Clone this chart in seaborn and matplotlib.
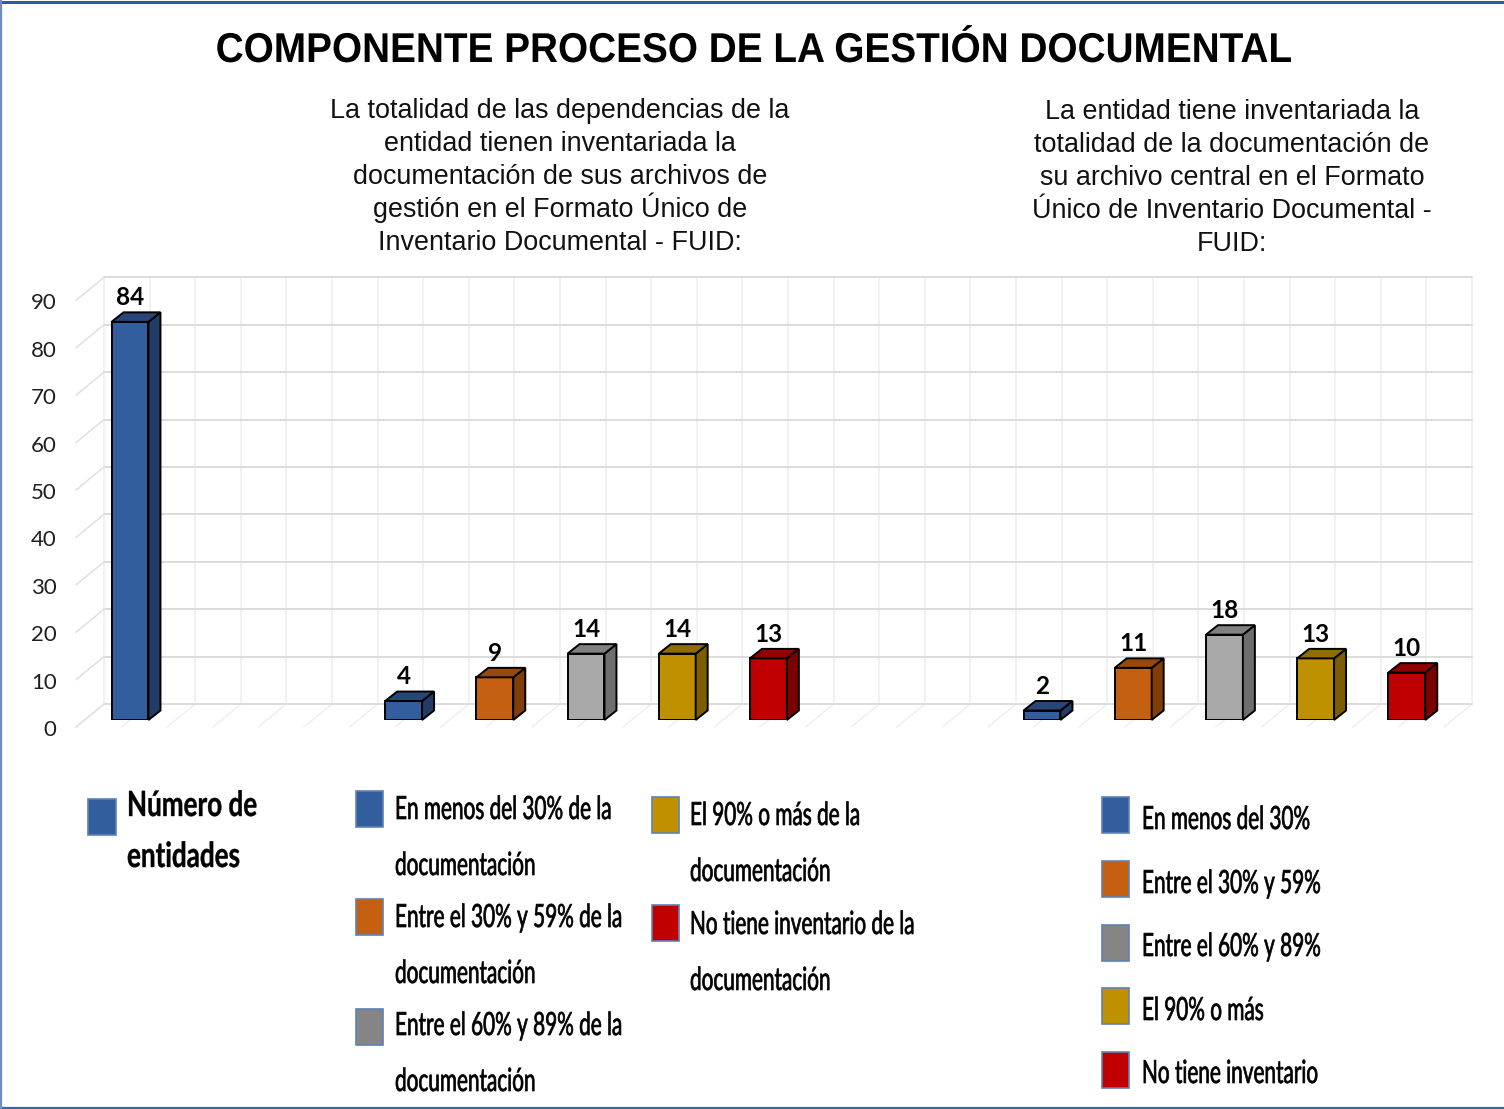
import numpy as np
import pandas as pd
import matplotlib
matplotlib.use('Agg')
import matplotlib.pyplot as plt
from matplotlib.colors import to_rgb
from matplotlib.lines import Line2D
from matplotlib.patches import Polygon, Rectangle
from matplotlib.patheffects import AbstractPathEffect
from matplotlib.transforms import Affine2D, ScaledTranslation
import seaborn as sns

TITLE = 'COMPONENTE PROCESO DE LA GESTIÓN DOCUMENTAL'
SUB_GESTION = ['La totalidad de las dependencias de la',
               'entidad tienen inventariada la',
               'documentación de sus archivos de',
               'gestión en el Formato Único de',
               'Inventario Documental - FUID:']
SUB_CENTRAL = ['La entidad tiene inventariada la',
               'totalidad de la documentación de',
               'su archivo central en el Formato',
               'Único de Inventario Documental -',
               'FUID:']

TONOS = ['azul', 'naranja', 'gris', 'oro', 'rojo']
entidades = [84]
gestion = [4, 9, 14, 14, 13]
central = [2, 11, 18, 13, 10]
y_ticks = [0, 10, 20, 30, 40, 50, 60, 70, 80, 90]

COLORES = {'azul': '#335e9e', 'naranja': '#c55f11', 'gris': '#a9a9a9',
           'oro': '#bf9000', 'rojo': '#c00000'}
GRIS_LEYENDA = '#858585'

W, H = 1504, 1109
PX_X = 91.2      # px per category
PX_Y = 4.74      # px per unit


class Squeeze(AbstractPathEffect):
    # the reference text is horizontally compressed, matplotlib has no font stretch
    def __init__(self, x0, sx, stroke=0.0):
        super().__init__()
        self.x0, self.sx, self.stroke = x0, sx, stroke

    def draw_path(self, renderer, gc, tpath, affine, rgbFace=None):
        squeeze = Affine2D().translate(-self.x0, 0).scale(self.sx, 1).translate(self.x0, 0)
        gc0 = renderer.new_gc()
        gc0.copy_properties(gc)
        gc0.set_linewidth(self.stroke)
        gc0.set_foreground(rgbFace)
        renderer.draw_path(gc0, tpath, affine + squeeze, rgbFace)
        gc0.restore()


def px_text(x, y, s, **kw):
    kw.setdefault('va', 'center')
    return fig.text(x / W, 1 - y / H, s, **kw)


def narrow_text(x, y, s, sx=0.65, stroke=0.5, **kw):
    t = px_text(x, y, s, family='Lato', color='black', **kw)
    t.set_path_effects([Squeeze(x, sx, stroke)])
    return t


def swatch(x, y, tono, w=27, h=36):
    color = GRIS_LEYENDA if tono == 'gris' else COLORES[tono]
    fig.add_artist(Rectangle((x / W, 1 - (y + h) / H), w / W, h / H,
                             transform=fig.transFigure, facecolor=color,
                             edgecolor='#5f82b8', lw=1.2))


# ── Table ─────────────────────────────────────────────────────────────────────
cats = ['total', 'hueco1', 'hueco2']
cats += [f'g{i}' for i in range(5)] + ['hueco3', 'hueco4']
cats += [f'c{i}' for i in range(5)]
df = pd.DataFrame({
    'cat':   ['total'] + [f'g{i}' for i in range(5)] + [f'c{i}' for i in range(5)],
    'valor': entidades + gestion + central,
    'tono':  ['azul'] + TONOS + TONOS,
})

sns.set_theme(style='white')
plt.rcParams['font.family'] = ['Lato', 'DejaVu Sans']

fig = plt.figure(figsize=(W / 100, H / 100), dpi=100, facecolor='white')
ax = fig.add_axes([84.4 / W, 1 - 720 / H, 15 * PX_X / W, 90 * PX_Y / H])

sns.barplot(data=df, x='cat', y='valor', order=cats, hue='tono', hue_order=TONOS,
            palette=COLORES, dodge=False, width=0.405, saturation=1,
            edgecolor='black', linewidth=1.4, legend=False, zorder=3, ax=ax)
ax.set_xlim(-0.5, 14.5)
ax.set_ylim(0, 90)
ax.set_xlabel('')
ax.set_ylabel('')
ax.set_xticks([])
sns.despine(ax=ax, left=True, bottom=True)
ax.patch.set_alpha(0)

# ── Back wall and floor ───────────────────────────────────────────────────────
wall_dx, wall_dy = 19.6 / PX_X, 16 / PX_Y
front_dx, front_dy = -8.4 / PX_X, -7 / PX_Y
x0, x1 = -0.5 + wall_dx, 14.5 + wall_dx
for v in y_ticks:
    ax.plot([x0, x1], [v + wall_dy] * 2, color='#dcdcdc', lw=1.4, zorder=1, clip_on=False)
    ax.plot([-0.5 + front_dx, x0], [v + front_dy, v + wall_dy], color='#e2e2e2', lw=1.2,
            zorder=1, clip_on=False)
for k in np.arange(0, 15.01, 0.5):
    ax.plot([x0 + k] * 2, [wall_dy, 90 + wall_dy], color='#f0f0f0', lw=1.3, zorder=0.5,
            clip_on=False)
    ax.plot([x0 + k, -0.5 + front_dx + k], [wall_dy, front_dy], color='#f0f0f0', lw=1.2,
            zorder=0.5, clip_on=False)

# ── 3D faces and value labels ─────────────────────────────────────────────────
dx, dy = 12 / PX_X, 9.5 / PX_Y
for bar in ax.patches:
    h = bar.get_height()
    if not h > 0:
        continue
    xl, xr = bar.get_x(), bar.get_x() + bar.get_width()
    rgb = np.array(to_rgb(bar.get_facecolor()))
    ax.add_patch(Polygon([(xr, 0), (xr + dx, dy), (xr + dx, h + dy), (xr, h)],
                         facecolor=rgb * 0.65, edgecolor='black', lw=1.4,
                         zorder=4, clip_on=False))
    ax.add_patch(Polygon([(xl, h), (xl + dx, h + dy), (xr + dx, h + dy), (xr, h)],
                         facecolor=rgb * 0.76, edgecolor='black', lw=1.4,
                         zorder=4, clip_on=False))
    ax.annotate(f'{h:.0f}', ((xl + xr) / 2, h), xytext=(0, 17.5),
                textcoords='offset points', ha='center', va='center',
                fontsize=17.5, fontweight='bold', color='black', zorder=5)

ax.set_yticks(y_ticks)
ax.tick_params(axis='y', length=0, pad=20, labelsize=16, labelcolor='#1f1f1f')
shift = ScaledTranslation(0, -8 / 100, fig.dpi_scale_trans)
for lab in ax.get_yticklabels():
    lab.set_transform(lab.get_transform() + shift)

# ── Title and subtitles ───────────────────────────────────────────────────────
title = px_text(753, 51, TITLE, ha='center', family='Liberation Sans', fontsize=30,
                fontweight='bold', color='black')
title.set_path_effects([Squeeze(753, 0.93)])
for i, s in enumerate(SUB_GESTION):
    px_text(560, 118 + i * 33, s, ha='center', va='baseline', family='Liberation Sans',
            fontsize=19.4, color='#111111')
for i, s in enumerate(SUB_CENTRAL):
    px_text(1232, 119 + i * 33, s, ha='center', va='baseline', family='Liberation Sans',
            fontsize=19.4, color='#111111')

# ── Legends ───────────────────────────────────────────────────────────────────
swatch(88, 799, 'azul', w=28)
narrow_text(127, 806, 'Número de', sx=0.75, stroke=0.3, fontsize=25, fontweight='bold')
narrow_text(127, 857, 'entidades', sx=0.75, stroke=0.3, fontsize=25, fontweight='bold')

for sy, ty, first, tono in [(791, 810, 'En menos del 30% de la', 'azul'),
                            (899, 918, 'Entre el 30% y 59% de la', 'naranja'),
                            (1009, 1026, 'Entre el 60% y 89% de la', 'gris')]:
    swatch(356, sy, tono)
    narrow_text(395, ty, first, fontsize=23)
    narrow_text(395, ty + 56, 'documentación', fontsize=23)

for sy, ty, first, tono in [(797, 816, 'El 90% o más de la', 'oro'),
                            (905, 925, 'No tiene inventario de la', 'rojo')]:
    swatch(652, sy, tono)
    narrow_text(690, ty, first, fontsize=23)
    narrow_text(690, ty + 56, 'documentación', fontsize=23)

for sy, ty, s, tono in [(797, 820, 'En menos del 30%', 'azul'),
                        (861, 884, 'Entre el 30% y 59%', 'naranja'),
                        (925, 947, 'Entre el 60% y 89%', 'gris'),
                        (988, 1011, 'El 90% o más', 'oro'),
                        (1052, 1074, 'No tiene inventario', 'rojo')]:
    swatch(1102, sy, tono)
    narrow_text(1142, ty, s, fontsize=23)

# picture frame: no line on the right side
for xs, ys, col, lw in [([0, 1], [0.9978, 0.9978], '#2f5d9b', 2.2),
                        ([0, 1], [0.0006, 0.0006], '#3a66a8', 1.6),
                        ([0.0005, 0.0005], [0, 1], '#6d8fc4', 1.6)]:
    fig.add_artist(Line2D(xs, ys, transform=fig.transFigure, color=col, lw=lw))

fig.savefig('out.png', dpi=100)
